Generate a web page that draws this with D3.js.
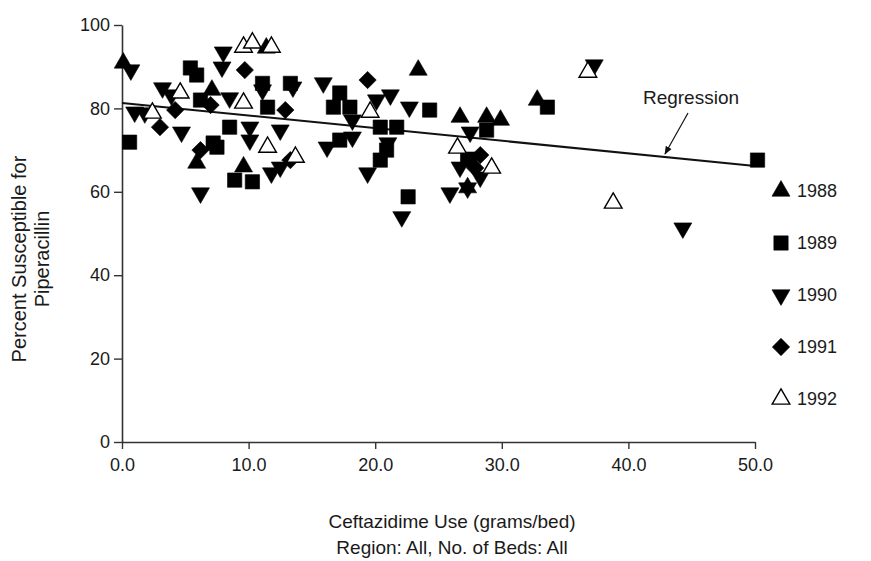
<!DOCTYPE html>
<html>
<head>
<meta charset="utf-8">
<script src="https://cdn.jsdelivr.net/npm/d3@7"></script>
<style>
  body { margin: 0; background: #fff; }
  svg text { font-family: "Liberation Sans", Arial, sans-serif; fill: #1a1a1a; }
</style>
</head>
<body>
<div id="chart"></div>
<script>
// Data: [ceftazidime use, percent susceptible]
const years = ["1988", "1989", "1990", "1991", "1992"];

const pts1988 = [
  [0.1, 90.9], [7.1, 84.4], [5.9, 66.9], [11.4, 94.5], [9.6, 66.0],
  [23.4, 89.2], [26.7, 77.9], [28.8, 77.9], [29.9, 77.2], [32.8, 82.0],
  [27.3, 61.0]
];
const pts1989 = [
  [0.6, 71.9], [5.4, 89.7], [5.9, 88.0], [6.2, 82.0], [7.2, 71.7],
  [8.5, 75.5], [7.5, 70.7], [8.9, 62.8], [10.3, 62.4], [11.1, 86.0],
  [13.3, 86.0], [11.5, 80.3], [17.2, 83.7], [16.7, 80.3], [18.0, 80.3],
  [17.2, 72.4], [20.4, 75.5], [21.7, 75.5], [20.4, 67.6], [20.9, 70.0],
  [22.6, 58.8], [24.3, 79.6], [28.8, 74.8], [27.3, 67.6], [33.6, 80.3],
  [50.2, 67.6]
];
const pts1990 = [
  [0.7, 89.2], [1.0, 79.1], [1.8, 78.9], [3.2, 84.9], [3.9, 83.2],
  [4.7, 74.3], [6.2, 59.7], [8.0, 93.5], [7.9, 89.9], [8.5, 82.5],
  [11.1, 84.4], [13.5, 85.1], [12.5, 74.8], [10.1, 75.5], [10.1, 72.4],
  [11.8, 64.5], [12.5, 65.9], [15.9, 86.1], [18.2, 77.2], [20.1, 82.0],
  [21.2, 83.2], [22.7, 80.3], [18.2, 73.1], [16.2, 70.7], [19.4, 64.5],
  [21.0, 71.7], [22.1, 54.0], [27.5, 74.3], [27.7, 68.3], [26.7, 65.9],
  [28.3, 63.5], [27.3, 60.9], [25.9, 59.7], [37.3, 90.4], [44.3, 51.3]
];
const pts1991 = [
  [3.0, 75.5], [4.2, 79.6], [6.2, 70.0], [9.7, 89.2], [12.9, 79.6],
  [13.3, 67.6], [19.4, 86.8], [27.9, 65.7], [28.3, 68.8], [7.0, 80.8]
];
const pts1992 = [
  [2.4, 78.9], [4.6, 83.7], [9.6, 94.7], [10.3, 95.7], [11.8, 94.7],
  [9.6, 81.3], [11.5, 70.7], [13.7, 68.3], [19.6, 79.1], [26.5, 70.5],
  [29.2, 65.7], [36.8, 88.7], [38.8, 57.3]
];

const regression = [[0, 81.3], [50, 66.2]];
const xTicks = [0, 10, 20, 30, 40, 50];
const yTicks = [0, 20, 40, 60, 80, 100];

const W = 871, H = 561;
const svg = d3.select("#chart").append("svg")
  .attr("width", W).attr("height", H);

const x = d3.scaleLinear().domain([0, 50]).range([122, 755]);
const y = d3.scaleLinear().domain([0, 100]).range([442, 25]);

// axes
const xAxis = svg.append("g")
  .attr("transform", `translate(0,${y(0)})`)
  .call(d3.axisBottom(x).tickValues(xTicks).tickFormat(d3.format(".1f")).tickSize(7).tickSizeOuter(0).tickPadding(9));
const yAxis = svg.append("g")
  .attr("transform", `translate(${x(0)},0)`)
  .call(d3.axisLeft(y).tickValues(yTicks).tickSize(8).tickSizeOuter(0).tickPadding(4));

[xAxis, yAxis].forEach(g => {
  g.select(".domain").attr("stroke", "#333").attr("stroke-width", 1.6);
  g.selectAll(".tick line").attr("stroke", "#333").attr("stroke-width", 1.4);
  g.selectAll(".tick text").attr("font-size", 18).attr("fill", "#1a1a1a")
    .attr("font-family", "Liberation Sans, Arial, sans-serif");
});

// regression line
svg.append("path")
  .datum(regression)
  .attr("d", d3.line().x(d => x(d[0])).y(d => y(d[1])))
  .attr("stroke", "#111").attr("stroke-width", 2).attr("fill", "none");

// symbols per year
const sym = {
  "1988": { type: d3.symbolTriangle, size: 140, rot: 0, fill: "#000" },
  "1989": { type: d3.symbolSquare, size: 205, rot: 0, fill: "#000" },
  "1990": { type: d3.symbolTriangle, size: 140, rot: 180, fill: "#000" },
  "1991": { type: d3.symbolSquare, size: 150, rot: 45, fill: "#000" },
  "1992": { type: d3.symbolTriangle, size: 135, rot: 0, fill: "#fff" }
};
const series = { "1988": pts1988, "1989": pts1989, "1990": pts1990, "1991": pts1991, "1992": pts1992 };

years.forEach(yr => {
  const s = sym[yr];
  svg.append("g").selectAll("path")
    .data(series[yr])
    .join("path")
    .attr("d", d3.symbol().type(s.type).size(s.size))
    .attr("transform", d => `translate(${x(d[0])},${y(d[1])}) rotate(${s.rot})`)
    .attr("fill", s.fill)
    .attr("stroke", "#000")
    .attr("stroke-width", s.fill === "#fff" ? 1.4 : 0.6);
});

// regression label and arrow
svg.append("text")
  .attr("x", 691).attr("y", 104)
  .attr("text-anchor", "middle").attr("font-size", 19)
  .text("Regression");
svg.append("defs").append("marker")
  .attr("id", "arr").attr("viewBox", "0 0 10 10")
  .attr("refX", 9).attr("refY", 5)
  .attr("markerWidth", 7).attr("markerHeight", 7)
  .attr("orient", "auto")
  .append("path").attr("d", "M0,1 L10,5 L0,9 Z").attr("fill", "#111");
svg.append("line")
  .attr("x1", 688).attr("y1", 113).attr("x2", 665).attr("y2", 154)
  .attr("stroke", "#111").attr("stroke-width", 1.2)
  .attr("marker-end", "url(#arr)");

// legend
const legend = svg.append("g");
years.forEach((yr, i) => {
  const s = sym[yr];
  const ly = 191 + i * 52;
  legend.append("path")
    .attr("d", d3.symbol().type(s.type).size(s.size))
    .attr("transform", `translate(781,${ly}) rotate(${s.rot})`)
    .attr("fill", s.fill).attr("stroke", "#000")
    .attr("stroke-width", s.fill === "#fff" ? 1.4 : 0.6);
  legend.append("text")
    .attr("x", 797).attr("y", ly + 6)
    .attr("font-size", 18)
    .text(yr);
});

// axis titles
svg.append("text")
  .attr("transform", "translate(26,259) rotate(-90)")
  .attr("text-anchor", "middle").attr("font-size", 20)
  .text("Percent Susceptible for");
svg.append("text")
  .attr("transform", "translate(49,259) rotate(-90)")
  .attr("text-anchor", "middle").attr("font-size", 20)
  .text("Piperacillin");
svg.append("text")
  .attr("x", 452).attr("y", 528)
  .attr("text-anchor", "middle").attr("font-size", 19)
  .text("Ceftazidime Use (grams/bed)");
svg.append("text")
  .attr("x", 452).attr("y", 554)
  .attr("text-anchor", "middle").attr("font-size", 19)
  .text("Region: All, No. of Beds: All");
</script>
</body>
</html>
